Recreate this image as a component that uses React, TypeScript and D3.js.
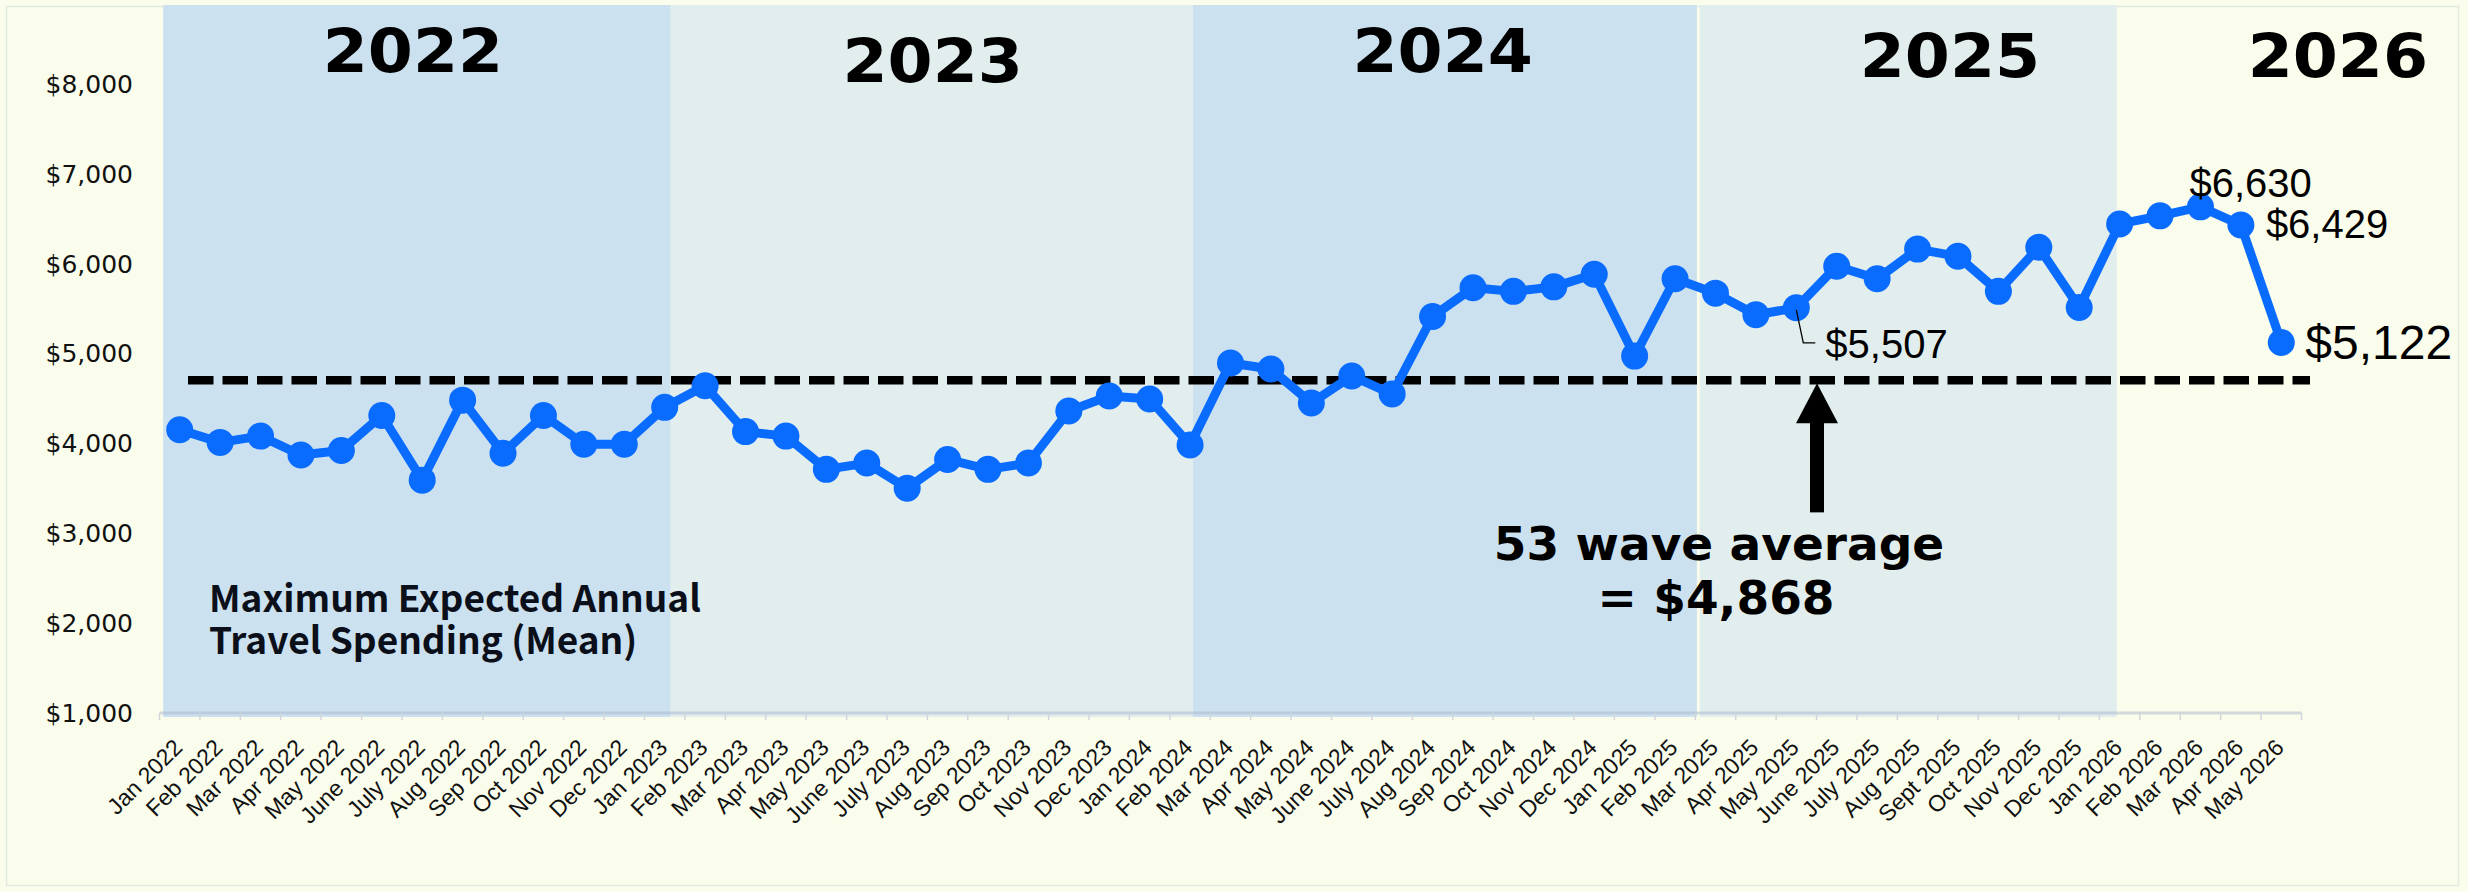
import React from "react";
import * as d3 from "d3";

const months: string[] = [
  "Jan 2022", "Feb 2022", "Mar 2022", "Apr 2022", "May 2022", "June 2022", "July 2022", "Aug 2022", "Sep 2022", "Oct 2022", "Nov 2022", "Dec 2022",
  "Jan 2023", "Feb 2023", "Mar 2023", "Apr 2023", "May 2023", "June 2023", "July 2023", "Aug 2023", "Sep 2023", "Oct 2023", "Nov 2023", "Dec 2023",
  "Jan 2024", "Feb 2024", "Mar 2024", "Apr 2024", "May 2024", "June 2024", "July 2024", "Aug 2024", "Sep 2024", "Oct 2024", "Nov 2024", "Dec 2024",
  "Jan 2025", "Feb 2025", "Mar 2025", "Apr 2025", "May 2025", "June 2025", "July 2025", "Aug 2025", "Sept 2025", "Oct 2025", "Nov 2025", "Dec 2025",
  "Jan 2026", "Feb 2026", "Mar 2026", "Apr 2026", "May 2026",
];

const spending: number[] = [
  4150, 4010, 4080, 3870, 3920, 4310, 3590, 4480, 3890, 4310, 3990, 3990,
  4400, 4640, 4130, 4080, 3710, 3780, 3500, 3820, 3710, 3780, 4359, 4526,
  4493, 3981, 4893, 4826, 4448, 4749, 4548, 5410, 5730, 5690, 5740, 5880,
  4970, 5830, 5670, 5430, 5507, 5970, 5830, 6160, 6080, 5690, 6180, 5510,
  6440, 6530, 6630, 6429, 5122,
];

const yTicks: number[] = [1000, 2000, 3000, 4000, 5000, 6000, 7000, 8000];

const yearLabels: string[] = ["2022", "2023", "2024", "2025", "2026"];
// positions in category units along the x axis
const yearLabelPos: number[] = [6.27, 19.13, 31.75, 44.3, 53.9];
const yearBandStart: number[] = [0.09, 12.65, 25.57, 38.11];
const yearBandEnd: number[] = [12.65, 25.57, 38.04, 48.43];

const avgLineValue = 4700;
const avgText1 = "53 wave average";
const avgText2 = "= $4,868";

const titleLines: string[] = ["Maximum Expected Annual", "Travel Spending (Mean)"];

const labeledMonths: string[] = ["May 2025", "Mar 2026", "Apr 2026", "May 2026"];

const W = 2468;
const H = 892;
const BG = "#fafdeb";
const BAND_DARK = "#cce1ef";
const BAND_LIGHT = "#e2eeee";
const BLUE = "#0a6cff";

export default function App() {
  const x = d3.scaleBand<string>().domain(months).range([159.5, 2301.5]).paddingInner(0).paddingOuter(0);
  const step = x.step();
  const x0 = x.range()[0];
  const xAt = (i: number) => x0 + i * step;
  const cx = (m: string) => (x(m) as number) + x.bandwidth() / 2;
  const y = d3.scaleLinear().domain([1000, 8000]).range([713, 83.7]);

  const pts: [number, number][] = months.map((m, i) => [cx(m), y(spending[i])]);
  const line = d3.line<[number, number]>().x((d) => d[0]).y((d) => d[1]);

  const valOf = (m: string) => spending[months.indexOf(m)];
  const fmt = (v: number) => "$" + d3.format(",")(v);

  const p5507 = [cx(labeledMonths[0]), y(valOf(labeledMonths[0]))];
  const p6630 = [cx(labeledMonths[1]), y(valOf(labeledMonths[1]))];
  const p6429 = [cx(labeledMonths[2]), y(valOf(labeledMonths[2]))];
  const p5122 = [cx(labeledMonths[3]), y(valOf(labeledMonths[3]))];

  const avgY = y(avgLineValue);
  const arrowX = 1817;
  const axisY = y(1000);
  const yearBaselines = [72, 82, 72, 77, 77];

  return (
    <svg
      width={W}
      height={H}
      style={{ position: "absolute", left: 0, top: 0, display: "block" }}
      xmlns="http://www.w3.org/2000/svg"
    >
      <rect x={0} y={0} width={W} height={H} fill={BG} />
      <rect x={6.5} y={6.5} width={2452} height={879} fill="none" stroke="#e2e9e2" strokeWidth={1.5} />

      {/* year bands */}
      {yearBandStart.map((s, i) => (
        <rect
          key={"band" + i}
          x={xAt(s)}
          y={5}
          width={xAt(yearBandEnd[i]) - xAt(s)}
          height={axisY + 4 - 5}
          fill={i % 2 === 0 ? BAND_DARK : BAND_LIGHT}
        />
      ))}

      {/* year labels */}
      {yearLabels.map((t, i) => (
        <text
          key={"yl" + i}
          transform={`translate(${xAt(yearLabelPos[i])},${yearBaselines[i]}) scale(1.08,1)`}
          textAnchor="middle"
          fontFamily="'DejaVu Sans', sans-serif"
          fontWeight={700}
          fontSize={60}
          fill="#000"
        >
          {t}
        </text>
      ))}

      {/* y axis labels */}
      {yTicks.map((v) => (
        <text
          key={"yt" + v}
          x={133}
          y={y(v)}
          dy="0.36em"
          textAnchor="end"
          fontFamily="'DejaVu Sans', sans-serif"
          fontSize={25}
          fill="#111"
        >
          {fmt(v)}
        </text>
      ))}

      {/* x axis */}
      <line x1={x0} x2={x.range()[1]} y1={axisY} y2={axisY} stroke="#a8b6cc" strokeOpacity={0.5} strokeWidth={3} />
      {d3.range(months.length + 1).map((i) => (
        <line key={"tk" + i} x1={xAt(i)} x2={xAt(i)} y1={axisY} y2={axisY + 7} stroke="#d3d5dc" strokeWidth={1.5} />
      ))}
      {months.map((m) => (
        <text
          key={"xl" + m}
          transform={`translate(${cx(m) + 4},${axisY + 36}) rotate(-45)`}
          textAnchor="end"
          fontFamily="'Liberation Sans', Arial, sans-serif"
          fontSize={23}
          fill="#111"
        >
          {m}
        </text>
      ))}

      {/* average dashed line */}
      <line
        x1={188}
        x2={2310}
        y1={avgY}
        y2={avgY}
        stroke="#000"
        strokeWidth={8.5}
        strokeDasharray="25.5 9"
      />

      {/* series */}
      <path d={line(pts) || ""} fill="none" stroke={BLUE} strokeWidth={9} strokeLinejoin="round" />
      {pts.map((p, i) => (
        <circle key={"pt" + i} cx={p[0]} cy={p[1]} r={13.5} fill={BLUE} />
      ))}

      {/* data labels */}
      <polyline
        points={`${p5507[0]},${p5507[1] + 2} ${p5507[0] + 7},${p5507[1] + 35} ${p5507[0] + 19},${p5507[1] + 35}`}
        fill="none"
        stroke="#000"
        strokeWidth={1.3}
      />
      <text x={p5507[0] + 29} y={p5507[1] + 50} fontFamily="'Liberation Sans', Arial, sans-serif" fontSize={40} fill="#000">
        {fmt(valOf(labeledMonths[0]))}
      </text>
      <text x={p6630[0] - 11} y={p6630[1] - 10} fontFamily="'Liberation Sans', Arial, sans-serif" fontSize={40} fill="#000">
        {fmt(valOf(labeledMonths[1]))}
      </text>
      <text x={p6429[0] + 25} y={p6429[1] + 13} fontFamily="'Liberation Sans', Arial, sans-serif" fontSize={40} fill="#000">
        {fmt(valOf(labeledMonths[2]))}
      </text>
      <text x={p5122[0] + 24} y={p5122[1] + 17} fontFamily="'Liberation Sans', Arial, sans-serif" fontSize={48} fill="#000">
        {fmt(valOf(labeledMonths[3]))}
      </text>

      {/* arrow */}
      <polygon
        points={`${arrowX},${avgY + 3} ${arrowX - 21},${avgY + 43} ${arrowX + 21},${avgY + 43}`}
        fill="#000"
      />
      <rect x={arrowX - 7} y={avgY + 40} width={14} height={92} fill="#000" />

      {/* average annotation */}
      <text textAnchor="middle" fontFamily="'DejaVu Sans', sans-serif" fontWeight={700} fontSize={47} fill="#000">
        <tspan x={1719} y={560}>{avgText1}</tspan>
        <tspan x={1716} y={614}>{avgText2}</tspan>
      </text>

      {/* series title */}
      <text
        fontFamily="'Noto Sans CJK JP', 'Noto Sans', sans-serif"
        fontWeight={700}
        fontSize={37}
        fill="#0a0f1a"
      >
        {titleLines.map((t, i) => (
          <tspan key={"tl" + i} x={209} y={612 + i * 42}>
            {t}
          </tspan>
        ))}
      </text>
    </svg>
  );
}
